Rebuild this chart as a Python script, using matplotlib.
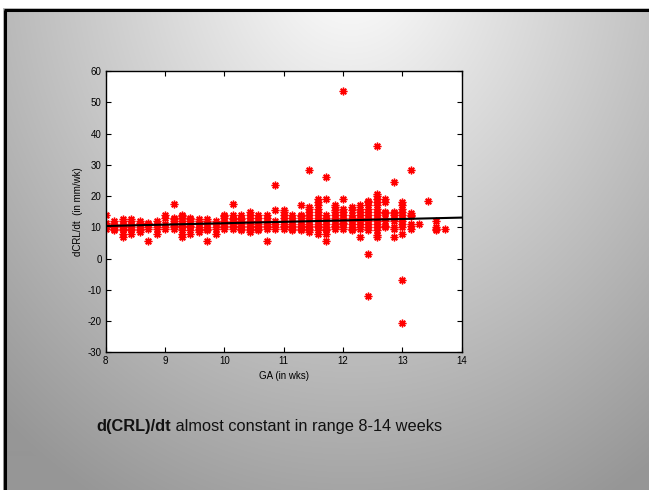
import numpy as np
import matplotlib
matplotlib.use("Agg")
import matplotlib.pyplot as plt

plt.rcParams['font.family'] = ['Liberation Sans', 'DejaVu Sans']
plt.rcParams['axes.unicode_minus'] = False

# ---- data: gestational age columns (days after 8 weeks) and dCRL/dt values ----
day_offsets = list(range(41))
rate_columns = [
    [14, 11.5, 10.5, 10, 9.5],
    [12, 11, 10.5, 10, 9.5, 9],
    [12.5, 12, 11, 10.5, 10, 9.5, 9, 8, 7],
    [12.5, 12, 11, 10, 9.5, 9, 8],
    [12, 11.5, 11, 10, 9.5, 9, 8.5],
    [11.5, 11, 10, 9.5, 5.5],
    [12, 11, 10, 9.5, 8],
    [14, 13, 11, 10, 9.5],
    [17.5, 13, 12.5, 12, 11.5, 11, 10.5, 10, 9.5],
    [14, 13.5, 13, 12, 11, 10.5, 10, 9, 8, 7],
    [13, 12.5, 12, 11, 10.5, 10, 9, 8],
    [12.5, 12, 11, 10, 9.5, 9, 8.5],
    [12.5, 12, 11, 10, 9.5, 9, 5.5],
    [12, 11, 10, 9.5, 8],
    [14, 13.5, 13, 12, 11, 10.5, 10, 9.5],
    [17.5, 14, 13, 12.5, 12, 11, 10.5, 10, 9.5],
    [14, 13, 12.5, 12, 11, 10.5, 10, 9.5, 9],
    [15, 14, 13, 12, 11, 10.5, 10, 9.5, 9, 8.5],
    [14, 13, 12, 11, 10.5, 10, 9.5, 9],
    [14, 13, 12, 11, 10.5, 10, 9.5, 5.5],
    [23.5, 15.5, 12, 11, 10, 9.5],
    [15.5, 15, 14, 13, 12, 11, 10.5, 10, 9.5],
    [14, 13, 12, 11, 10.5, 10, 9.5, 9],
    [17, 14, 13.5, 13, 12, 11, 10.5, 10, 9.5, 9],
    [28.2, 16.5, 16, 15, 14, 13, 12, 11, 10.5, 10, 9.5, 9, 8.5],
    [19, 18, 17, 16, 15, 14, 13, 12, 11, 10.5, 10, 9, 8],
    [26, 19, 14, 13, 12, 11, 10, 9.5, 9, 8, 5.5],
    [17, 16.5, 15.5, 15, 14, 13, 12, 11, 10.5, 10, 9.5],
    [53.5, 19, 16, 15, 14, 13, 12, 11.5, 11, 10, 9.5],
    [16.5, 15.5, 14, 13, 12, 11, 10, 9.5, 9],
    [17, 16, 15, 14, 13, 12, 11, 10, 9.5, 7],
    [18.5, 18, 17, 16, 15, 14, 13, 12, 11, 10, 9, 1.5, -12],
    [36, 20.5, 20, 19, 18, 17, 16, 15, 14, 13, 12, 11, 10, 9, 7.5, 7],
    [19, 18, 15, 14.5, 13, 12, 10.5, 10],
    [24.5, 15, 14.5, 14, 13, 12, 10, 9.5, 7],
    [18, 17, 16, 15, 14, 13, 12, 11, 10, 8, -6.8, -20.7],
    [28.2, 14.5, 14, 13.5, 11, 10.5, 9.5],
    [11],
    [18.5],
    [12, 10, 9.5, 9],
    [9.5],
]
fit_ga = [8, 14]
fit_rate = [10.4, 13.1]

x_ticks = [8, 9, 10, 11, 12, 13, 14]
y_ticks = [-30, -20, -10, 0, 10, 20, 30, 40, 50, 60]

caption_bold = 'd(CRL)/dt'
caption_rest = ' almost constant in range 8-14 weeks'

W, H = 649, 490
fig = plt.figure(figsize=(W / 100, H / 100), dpi=100)

# ---- slide background (radial grey gradient) ----
bg = fig.add_axes([0, 0, 1, 1])
yy, xx = np.mgrid[0:H, 0:W]
r = np.sqrt((xx - 350.0) ** 2 + ((yy + 40.0) * 0.85) ** 2)
v = np.clip(255 - 0.2 * r, 150, 250) / 255.0
img = np.dstack([v, v, v])
img[:9, :, :] = 1.0
img[:, :3, :] = 1.0
bg.imshow(img, extent=[0, W, H, 0], aspect='auto', interpolation='bilinear')
bg.plot([3.5, W], [10, 10], color='black', lw=2.2, solid_capstyle='butt')
bg.plot([4.5, 4.5], [10, H], color='black', lw=2.2, solid_capstyle='butt')
bg.set_xlim(0, W)
bg.set_ylim(H, 0)
bg.axis('off')

# ---- main plot ----
left, right, top, bottom = 105.7, 461.7, 71.0, 352.3
ax = fig.add_axes([left / W, 1 - bottom / H, (right - left) / W, (bottom - top) / H])
ax.set_facecolor('white')

xs, ys = [], []
for d, col in zip(day_offsets, rate_columns):
    for val in col:
        xs.append(8 + d / 7.0)
        ys.append(val)

ax.plot(xs, ys, linestyle='none', marker=(8, 2, 0), markersize=5.5,
        markeredgewidth=1.0, color='#ff0000', markeredgecolor='#ff0000')
ax.plot(fit_ga, fit_rate, color='black', lw=1.5)

ax.set_xlim(8, 14)
ax.set_ylim(-30, 60)
ax.set_xticks(x_ticks)
ax.set_yticks(y_ticks)
ax.tick_params(direction='in', length=3.5, width=0.8, top=True, right=True,
               labelsize=7, colors='black', pad=3)
for s in ax.spines.values():
    s.set_linewidth(1.0)
    s.set_color('black')
ax.set_xlabel('GA (in wks)', fontsize=7, labelpad=3)
ax.set_ylabel('dCRL/dt  (in mm/wk)', fontsize=7, labelpad=3)

# ---- caption: bold part followed by regular part ----
t1 = fig.text(96.5 / W, 1 - 431 / H, caption_bold, fontsize=11.8, fontweight='bold',
              ha='left', va='baseline', color='#111111')
fig.canvas.draw()
bb = t1.get_window_extent(renderer=fig.canvas.get_renderer())
fig.text(bb.x1 / W, 1 - 431 / H, caption_rest, fontsize=11.8,
         ha='left', va='baseline', color='#111111')

fig.savefig('out.png', dpi=100)
